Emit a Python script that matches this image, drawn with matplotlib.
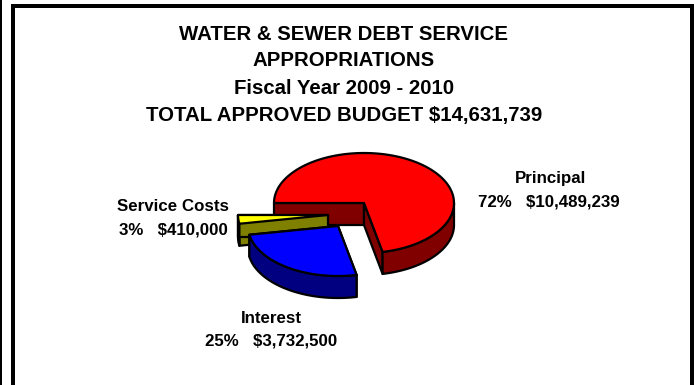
import numpy as np
import matplotlib
matplotlib.use("Agg")
import matplotlib.pyplot as plt
from matplotlib.patches import Polygon, Rectangle

title_lines = ["WATER & SEWER DEBT SERVICE", "APPROPRIATIONS", "Fiscal Year 2009 - 2010",
               "TOTAL APPROVED BUDGET $14,631,739"]
categories = ["Principal", "Interest", "Service Costs"]
amounts = [10489239, 3732500, 410000]
pct_labels = ["72%   $10,489,239", "25%   $3,732,500", "3%   $410,000"]

plt.rcParams["font.family"] = ["Liberation Sans", "DejaVu Sans"]

# pie geometry, in pixels
cx, cy = 364, 203
rx, ry = 90, 50
depth = 22
offsets = [(0, 0), (-26, 23), (-36, 12)]  # how far each slice is pulled out
top_colors = ["#ff0000", "#0000ff", "#ffff00"]
side_colors = ["#800000", "#000080", "#808000"]
lw = 1.6

fig = plt.figure(figsize=(6.94, 3.85), dpi=100)
ax = fig.add_axes([0, 0, 1, 1])
ax.set_xlim(0, 694)
ax.set_ylim(385, 0)
ax.axis("off")


def rim(x0, y0, t1, t2):
    t = np.radians(np.linspace(t1, t2, 120))
    return np.column_stack([x0 + rx * np.cos(t), y0 - ry * np.sin(t)])


def slab(pts, color, z):
    ax.add_patch(Polygon(pts, closed=True, fc=color, ec="black", lw=lw, joinstyle="round", zorder=z))


def draw_slice(i, t1, t2, z):
    # t1 is the larger angle, the slice runs clockwise down to t2
    x0 = cx + offsets[i][0]
    y0 = cy + offsets[i][1]
    top = rim(x0, y0, t1, t2)
    drop = np.array([0, depth])
    apex = np.array([x0, y0])
    # cut faces first
    for edge in (top[0], top[-1]):
        if edge[1] >= y0 - 0.01:
            slab([apex, edge, edge + drop, apex + drop], side_colors[i], z)
    # outer wall, only the part that faces the front
    front = np.linspace(t1, t2, 200)
    front = front[np.sin(np.radians(front)) <= 0]
    if len(front) > 1:
        wall = rim(x0, y0, front[0], front[-1])
        slab(np.vstack([wall, wall[::-1] + drop]), side_colors[i], z)
    slab(np.vstack([apex, top]), top_colors[i], z + 0.5)


# slices start at nine o'clock and run clockwise
sweep = 360 * np.array(amounts) / sum(amounts)
starts = 180 - np.concatenate([[0], np.cumsum(sweep)[:-1]])
draw_slice(0, starts[0], starts[0] - sweep[0], 2)
draw_slice(2, starts[2], starts[2] - sweep[2], 3)
draw_slice(1, starts[1], starts[1] - sweep[1], 4)

# frame
ax.add_patch(Rectangle((0, 0), 2.5, 385, fc="black", ec="none", zorder=1))
ax.add_patch(Rectangle((11, 4), 683, 3.5, fc="black", ec="none", zorder=1))
ax.add_patch(Rectangle((11, 4), 4, 381, fc="black", ec="none", zorder=1))
ax.add_patch(Rectangle((690, 4), 4, 381, fc="black", ec="none", zorder=1))

for line, y in zip(title_lines, [40.5, 66.5, 93.5, 120.5]):
    ax.text(344, y, line, ha="center", va="baseline", fontsize=14.7, fontweight="bold")

label_style = dict(ha="center", va="baseline", fontsize=12.2, fontweight="bold")
ax.text(550.5, 183, categories[0], **label_style)
ax.text(548.5, 206.2, pct_labels[0], **label_style)
ax.text(271.5, 323, categories[1], **label_style)
ax.text(271.5, 346, pct_labels[1], **label_style)
ax.text(173, 210.7, categories[2], **label_style)
ax.text(173, 234.2, pct_labels[2], **label_style)

fig.savefig("out.png", dpi=100)
